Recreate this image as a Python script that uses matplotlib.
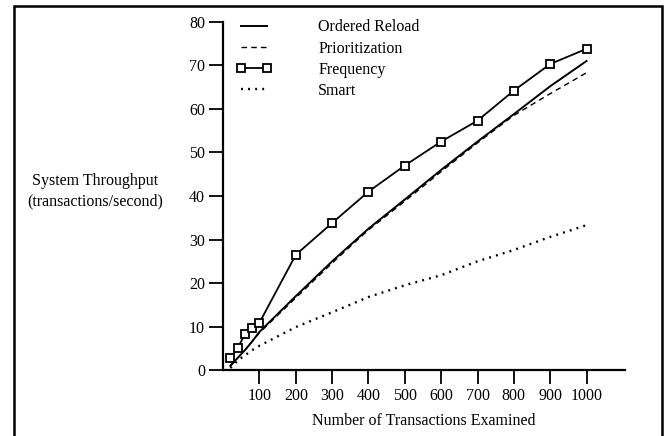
import matplotlib.pyplot as plt
from matplotlib.patches import Rectangle

plt.rcParams['font.family'] = ['Liberation Serif', 'DejaVu Serif']
plt.rcParams['font.size'] = 11.5

xs = [20, 40, 60, 80, 100, 200, 300, 400, 500, 600, 700, 800, 900, 1000]
ordered = [1.0, 2.8, 4.6, 6.6, 8.8, 17.0, 25.0, 32.5, 39.2, 46.0, 52.5, 58.8, 65.2, 71.0]
prior = [1.0, 2.8, 4.6, 6.6, 8.6, 16.6, 24.6, 32.2, 38.8, 45.6, 52.2, 58.5, 63.5, 68.3]
freq = [2.9, 5.0, 8.3, 9.6, 10.9, 26.5, 33.8, 41.0, 47.0, 52.5, 57.3, 64.2, 70.3, 73.8]
smart = [0.5, 2.2, 3.4, 4.6, 5.6, 9.9, 13.3, 16.8, 19.5, 21.8, 25.0, 27.6, 30.6, 33.3]

xticks = [100, 200, 300, 400, 500, 600, 700, 800, 900, 1000]
yticks = [0, 10, 20, 30, 40, 50, 60, 70, 80]

fig = plt.figure(figsize=(6.66, 4.36), dpi=100)
ax = fig.add_axes([0.335, 0.151, 0.603, 0.799])

ax.plot(xs, ordered, color='black', lw=1.4, label='Ordered Reload')
ax.plot(xs, prior, color='black', lw=1.0, dashes=(4, 3), label='Prioritization')
ax.plot(xs, freq, color='black', lw=1.3, marker='s', ms=6, mfc='white',
        mec='black', mew=1.3, label='Frequency')
ax.plot(xs, smart, color='black', lw=1.7, dashes=(0.8, 2.2), label='Smart')

ax.set_xlim(0, 1105)
ax.set_ylim(0, 80)
ax.set_xticks(xticks)
ax.set_yticks(yticks)
ax.tick_params(direction='out', length=10, width=1.3, pad=3)
for s in ['top', 'right']:
    ax.spines[s].set_visible(False)
ax.spines['left'].set_linewidth(1.6)
ax.spines['bottom'].set_linewidth(1.6)

ax.set_xlabel('Number of Transactions Examined', labelpad=6)
ax.set_ylabel('System Throughput\n(transactions/second)', rotation=0,
              ha='center', va='center', linespacing=1.3)
ax.yaxis.set_label_coords(-0.318, 0.514)

leg = ax.legend(loc='upper left', bbox_to_anchor=(-0.002, 1.048), frameon=False,
                numpoints=2, handlelength=2.2, handletextpad=2.9,
                labelspacing=0.32)

# scanned page border
fig.add_artist(Rectangle((14 / 666, -0.1), (662 - 14) / 666, 1.1 - 6 / 436,
                         transform=fig.transFigure, fill=False,
                         edgecolor='black', lw=1.8))

fig.savefig('out.png', dpi=100)
